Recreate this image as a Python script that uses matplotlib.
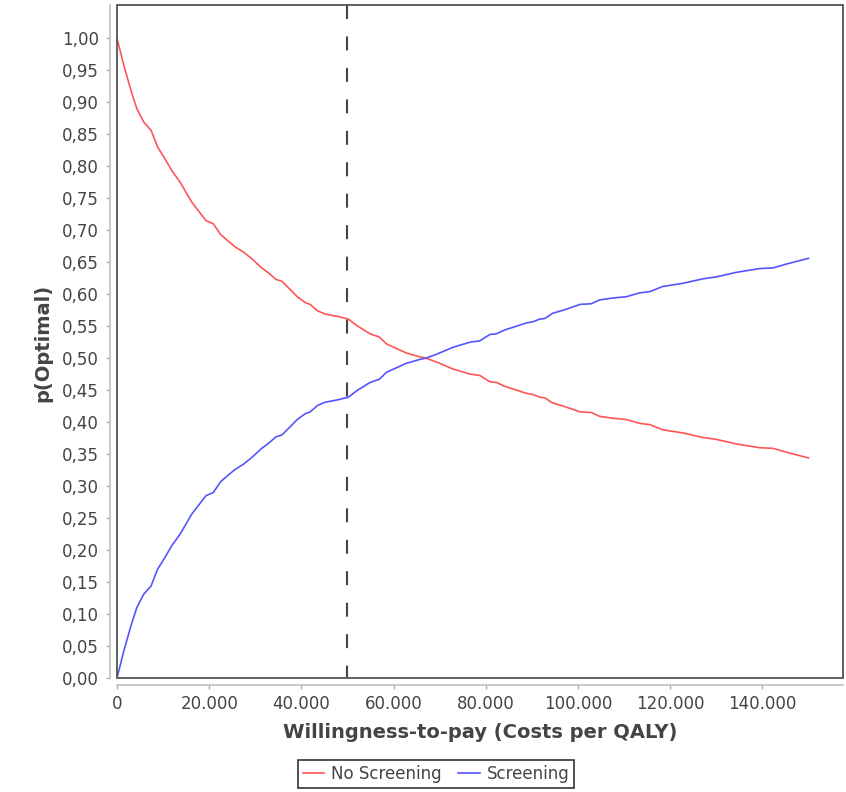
import numpy as np
import matplotlib
matplotlib.use('Agg')
import matplotlib.pyplot as plt
from matplotlib.patches import Rectangle
from matplotlib.ticker import FuncFormatter

# willingness-to-pay (costs per QALY)
wtp = [0, 1400, 3000, 4300, 5800, 7400, 8800, 10200, 11900, 13700,
       16200, 19300, 20900, 22500, 23800, 25600, 27400, 29300, 31400, 32900,
       34500, 35800, 37600, 39100, 40800, 41900, 43500, 45100, 48000, 50200,
       52000, 54900, 56900, 58500, 62800, 65700, 67000, 69300, 72900, 76600,
       78700, 80900, 82300, 84100, 86700, 88800, 90300, 91700, 92800, 94500,
       96800, 99700, 100400, 102900, 104700, 107600, 110500, 113400, 115600, 118400,
       122800, 127100, 130000, 134300, 139400, 142300, 145200, 150000]

p_no_screening = [1.000, 0.960, 0.919, 0.890, 0.869, 0.856, 0.830, 0.814, 0.793, 0.775,
                  0.744, 0.715, 0.710, 0.693, 0.685, 0.674, 0.666, 0.655, 0.641, 0.633,
                  0.623, 0.620, 0.607, 0.596, 0.587, 0.584, 0.574, 0.569, 0.565, 0.561,
                  0.551, 0.538, 0.533, 0.522, 0.508, 0.502, 0.500, 0.494, 0.483, 0.475,
                  0.473, 0.463, 0.462, 0.456, 0.450, 0.445, 0.443, 0.439, 0.438, 0.430,
                  0.425, 0.418, 0.416, 0.415, 0.409, 0.406, 0.404, 0.398, 0.396, 0.388,
                  0.383, 0.376, 0.373, 0.366, 0.360, 0.359, 0.353, 0.344]

p_screening = [0.000, 0.040, 0.081, 0.110, 0.131, 0.144, 0.170, 0.186, 0.207, 0.225,
               0.256, 0.285, 0.290, 0.307, 0.315, 0.326, 0.334, 0.345, 0.359, 0.367,
               0.377, 0.380, 0.393, 0.404, 0.413, 0.416, 0.426, 0.431, 0.435, 0.439,
               0.449, 0.462, 0.467, 0.478, 0.492, 0.498, 0.500, 0.506, 0.517, 0.525,
               0.527, 0.537, 0.538, 0.544, 0.550, 0.555, 0.557, 0.561, 0.562, 0.570,
               0.575, 0.582, 0.584, 0.585, 0.591, 0.594, 0.596, 0.602, 0.604, 0.612,
               0.617, 0.624, 0.627, 0.634, 0.640, 0.641, 0.647, 0.656]

threshold = 50000
x_ticks = [0, 20000, 40000, 60000, 80000, 100000, 120000, 140000]
y_ticks = [i * 0.05 for i in range(21)]

W, H = 846, 792
fig = plt.figure(figsize=(W/100, H/100), dpi=100)
ax = fig.add_axes([117/W, 1-678/H, (843-117)/W, (678-5)/H])

ax.plot(wtp, p_no_screening, color='#FF5555', lw=1.2, label='No Screening')
ax.plot(wtp, p_screening, color='#5555FF', lw=1.2, label='Screening')
# drawn top-down so the dash pattern starts at the top edge
ax.axvline(threshold, ymin=1, ymax=0, color='#444444', lw=1.5, dashes=(6.7, 8.4))

ax.set_xticks(x_ticks)
ax.set_yticks(y_ticks)
ax.set_xlim(0, 157500)
ax.set_ylim(0, 1.052)
ax.yaxis.set_major_formatter(FuncFormatter(lambda v, _: f"{v:.2f}".replace('.', ',')))
ax.xaxis.set_major_formatter(FuncFormatter(lambda v, _: f"{int(round(v)):,}".replace(',', '.')))

# plot frame and offset axis lines (JFreeChart look)
ax.add_patch(Rectangle((0, 0), 1, 1, transform=ax.transAxes, fill=False,
                       edgecolor='#555555', lw=1.3, clip_on=False, zorder=3))
for s in ['top', 'right']:
    ax.spines[s].set_visible(False)
for s in ['left', 'bottom']:
    ax.spines[s].set_position(('outward', 5))
    ax.spines[s].set_color('#c0c0c0')
    ax.spines[s].set_linewidth(1.2)
ax.tick_params(direction='out', length=3, width=1, color='#b0b0b0',
               labelsize=12, labelcolor='#444444')
ax.tick_params(axis='y', pad=5)
ax.tick_params(axis='x', pad=4)

fig.text(480/W, 1-733/H, 'Willingness-to-pay (Costs per QALY)', ha='center', va='center',
         fontsize=14, fontweight='bold', color='#444444')
fig.text(43/W, 1-343/H, 'p(Optimal)', ha='center', va='center', rotation=90,
         fontsize=14, fontweight='bold', color='#444444')

leg = fig.legend(loc='center', bbox_to_anchor=(436/W, 1-774/H), ncol=2, fontsize=12,
                 frameon=True, fancybox=False, handlelength=1.3, handletextpad=0.4,
                 columnspacing=1.0, borderpad=0.3, borderaxespad=0)
leg.get_frame().set_edgecolor('black')
leg.get_frame().set_linewidth(1.2)
for t in leg.get_texts():
    t.set_color('#444444')

fig.savefig('out.png', dpi=100)
